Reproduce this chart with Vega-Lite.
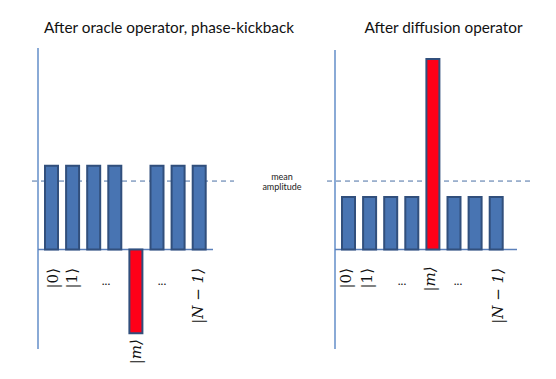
{
  "$schema": "https://vega.github.io/schema/vega-lite/v6.json",
  "width": 556,
  "height": 379,
  "padding": 0,
  "autosize": {"type": "none"},
  "background": "white",
  "config": {"view": {"stroke": null}},
  "datasets": {
    "bars": [
      {"panel": "oracle", "state": "0", "kind": "other", "x": 45, "x2": 58, "y": 0, "y2": 0.99},
      {"panel": "oracle", "state": "1", "kind": "other", "x": 66.1, "x2": 79.1, "y": 0, "y2": 0.99},
      {"panel": "oracle", "state": "2", "kind": "other", "x": 87.2, "x2": 100.2, "y": 0, "y2": 0.99},
      {"panel": "oracle", "state": "3", "kind": "other", "x": 108.3, "x2": 121.3, "y": 0, "y2": 0.99},
      {"panel": "oracle", "state": "m", "kind": "marked", "x": 129.4, "x2": 142.4, "y": 0, "y2": -0.99},
      {"panel": "oracle", "state": "5", "kind": "other", "x": 150.5, "x2": 163.5, "y": 0, "y2": 0.99},
      {"panel": "oracle", "state": "6", "kind": "other", "x": 171.6, "x2": 184.6, "y": 0, "y2": 0.99},
      {"panel": "oracle", "state": "N-1", "kind": "other", "x": 192.7, "x2": 205.7, "y": 0, "y2": 0.99},
      {"panel": "diffusion", "state": "0", "kind": "other", "x": 342, "x2": 355, "y": 0, "y2": 0.62},
      {"panel": "diffusion", "state": "1", "kind": "other", "x": 363.1, "x2": 376.1, "y": 0, "y2": 0.62},
      {"panel": "diffusion", "state": "2", "kind": "other", "x": 384.2, "x2": 397.2, "y": 0, "y2": 0.62},
      {"panel": "diffusion", "state": "3", "kind": "other", "x": 405.3, "x2": 418.3, "y": 0, "y2": 0.62},
      {"panel": "diffusion", "state": "m", "kind": "marked", "x": 426.4, "x2": 439.4, "y": 0, "y2": 2.255},
      {"panel": "diffusion", "state": "5", "kind": "other", "x": 447.5, "x2": 460.5, "y": 0, "y2": 0.62},
      {"panel": "diffusion", "state": "6", "kind": "other", "x": 468.6, "x2": 481.6, "y": 0, "y2": 0.62},
      {"panel": "diffusion", "state": "N-1", "kind": "other", "x": 489.7, "x2": 502.7, "y": 0, "y2": 0.62}
    ],
    "vaxes": [
      {"x": 38, "x2": 38, "y": 2.385, "y2": -1.178},
      {"x": 335, "x2": 335, "y": 2.361, "y2": -1.178}
    ],
    "baselines": [
      {"x": 38, "x2": 213, "y": 0, "y2": 0},
      {"x": 335, "x2": 517, "y": 0, "y2": 0}
    ],
    "means": [
      {"x": 32, "x2": 234, "y": 0.81, "y2": 0.81},
      {"x": 327, "x2": 531, "y": 0.81, "y2": 0.81}
    ],
    "titles": [
      {"x": 169, "y": 2.621, "text": "After oracle operator, phase-kickback"},
      {"x": 443.5, "y": 2.621, "text": "After diffusion operator"}
    ],
    "notes": [
      {"x": 282, "y": 0.858, "text": "mean"},
      {"x": 282, "y": 0.74, "text": "amplitude"}
    ],
    "kets": [
      {"x": 53, "y": -0.219, "text": "|0⟩"},
      {"x": 72, "y": -0.219, "text": "|1⟩"},
      {"x": 345.5, "y": -0.219, "text": "|0⟩"},
      {"x": 366.5, "y": -0.219, "text": "|1⟩"}
    ],
    "iketss": [
      {"x": 136, "y": -1.06, "text": "|m⟩"},
      {"x": 198, "y": -0.219, "text": "|N − 1⟩"},
      {"x": 430, "y": -0.2, "text": "|m⟩"},
      {"x": 497.5, "y": -0.219, "text": "|N − 1⟩"}
    ],
    "dots": [
      {"x": 106, "y": -0.373, "text": "..."},
      {"x": 162, "y": -0.373, "text": "..."},
      {"x": 402, "y": -0.373, "text": "..."},
      {"x": 458, "y": -0.373, "text": "..."}
    ]
  },
  "encoding": {
    "x": {"field": "x", "type": "quantitative", "scale": {"domain": [0, 556], "nice": false, "zero": false}, "axis": null},
    "y": {"field": "y", "type": "quantitative", "scale": {"domain": [-1.5325, 2.9527], "nice": false, "zero": false}, "axis": null}
  },
  "layer": [
    {
      "data": {"name": "means"},
      "mark": {"type": "rule", "stroke": "#4A6FA5", "strokeWidth": 1, "strokeDash": [5, 4]},
      "encoding": {"x2": {"field": "x2"}, "y2": {"field": "y2"}}
    },
    {
      "data": {"name": "vaxes"},
      "mark": {"type": "rule", "stroke": "#8AAAD6", "strokeWidth": 2},
      "encoding": {"x2": {"field": "x2"}, "y2": {"field": "y2"}}
    },
    {
      "data": {"name": "baselines"},
      "mark": {"type": "rule", "stroke": "#5B80BA", "strokeWidth": 1.5},
      "encoding": {"x2": {"field": "x2"}, "y2": {"field": "y2"}}
    },
    {
      "data": {"name": "bars"},
      "mark": {"type": "rect", "stroke": "#314F7C", "strokeWidth": 2},
      "encoding": {
        "x2": {"field": "x2"},
        "y2": {"field": "y2"},
        "fill": {"field": "kind", "type": "nominal", "scale": {"domain": ["other", "marked"], "range": ["#4874B2", "#FF0018"]}, "legend": null}
      }
    },
    {
      "data": {"name": "titles"},
      "mark": {"type": "text", "font": "Lato", "fontSize": 15.3, "fill": "#111111", "align": "center", "baseline": "middle"},
      "encoding": {"text": {"field": "text"}}
    },
    {
      "data": {"name": "notes"},
      "mark": {"type": "text", "font": "Lato", "fontSize": 9, "fill": "#222222", "align": "center", "baseline": "middle"},
      "encoding": {"text": {"field": "text"}}
    },
    {
      "data": {"name": "kets"},
      "mark": {"type": "text", "font": "DejaVu Serif", "fontSize": 15, "fill": "#111111", "angle": 270, "align": "right", "baseline": "middle"},
      "encoding": {"text": {"field": "text"}}
    },
    {
      "data": {"name": "iketss"},
      "mark": {"type": "text", "font": "DejaVu Serif", "fontStyle": "italic", "fontSize": 15, "fill": "#111111", "angle": 270, "align": "right", "baseline": "middle"},
      "encoding": {"text": {"field": "text"}}
    },
    {
      "data": {"name": "dots"},
      "mark": {"type": "text", "font": "Lato", "fontSize": 12, "fill": "#111111", "align": "center", "baseline": "middle"},
      "encoding": {"text": {"field": "text"}}
    }
  ]
}
